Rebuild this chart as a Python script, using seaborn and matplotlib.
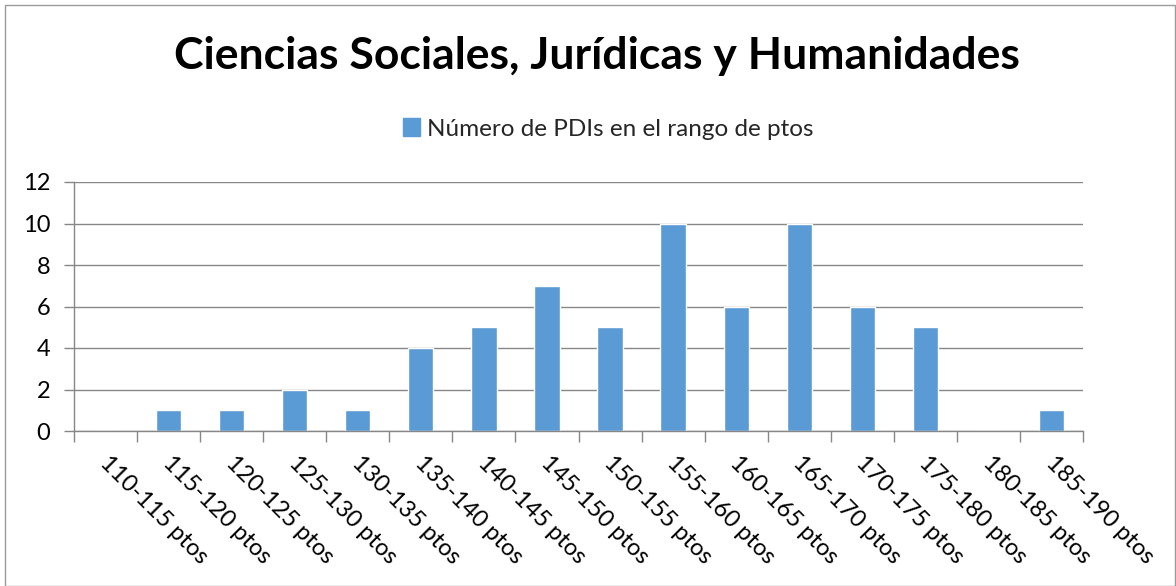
import numpy as np
import pandas as pd
import matplotlib
matplotlib.use("Agg")
import matplotlib.pyplot as plt
import matplotlib.patches as mpatches
import matplotlib.transforms as mtransforms
import seaborn as sns

# =========================
# DATA
# =========================
rangos = ["110-115 ptos", "115-120 ptos", "120-125 ptos", "125-130 ptos",
          "130-135 ptos", "135-140 ptos", "140-145 ptos", "145-150 ptos",
          "150-155 ptos", "155-160 ptos", "160-165 ptos", "165-170 ptos",
          "170-175 ptos", "175-180 ptos", "180-185 ptos", "185-190 ptos"]
num_pdis = [0, 1, 1, 2, 1, 4, 5, 7, 5, 10, 6, 10, 6, 5, 0, 1]
serie = "Número de PDIs en el rango de ptos"
titulo = "Ciencias Sociales, Jurídicas y Humanidades"
y_ticks = [0, 2, 4, 6, 8, 10, 12]

BAR_COLOR = "#5B9BD5"
GRID_COLOR = "#878787"

df = pd.DataFrame({"rango": rangos, "n": num_pdis})

# =========================
# PLOT
# =========================
sns.set_theme(style="white")
plt.rcParams["font.family"] = ["Lato", "DejaVu Sans"]

fig = plt.figure(figsize=(11.76, 5.86), dpi=100)
ax = fig.add_axes([74 / 1176, 1 - 431 / 586, (1083 - 74) / 1176, (431 - 182) / 586])

sns.barplot(data=df, x="rango", y="n", color=BAR_COLOR, width=0.4,
            saturation=1, ax=ax)

ax.set_ylim(0, 12)
ax.set_xlim(-0.5, len(rangos) - 0.5)
ax.set_yticks(y_ticks)
ax.set_yticklabels([str(t) for t in y_ticks], fontsize=17, color="black")
ax.yaxis.grid(True, color=GRID_COLOR, linewidth=1)
ax.set_axisbelow(True)
ax.tick_params(axis="y", which="major", length=7, width=1, color=GRID_COLOR,
               left=True, pad=10)

# category boundaries get the tick marks, labels sit at centres
ax.set_xticks(np.arange(len(rangos) + 1) - 0.5, minor=True)
ax.set_xticks(np.arange(len(rangos)))
ax.set_xticklabels(rangos, rotation=-45, ha="left", va="top",
                   rotation_mode="anchor", fontsize=17, color="black")
ax.tick_params(axis="x", which="major", length=0, pad=15)
ax.tick_params(axis="x", which="minor", length=8, width=1, color=GRID_COLOR,
               bottom=True)
# nudge labels a little to the right, like Excel does
shift = mtransforms.ScaledTranslation(5 / 100, 0, fig.dpi_scale_trans)
for lbl in ax.get_xticklabels():
    lbl.set_transform(lbl.get_transform() + shift)

for side in ["top", "right"]:
    ax.spines[side].set_visible(False)
for side in ["left", "bottom"]:
    ax.spines[side].set_color(GRID_COLOR)
    ax.spines[side].set_linewidth(1)
ax.set_xlabel("")
ax.set_ylabel("")

fig.text(597 / 1176, 1 - 56 / 586, titulo, ha="center", va="center",
         fontsize=32, fontweight="bold", color="black")

handle = mpatches.Patch(color=BAR_COLOR, label=serie)
fig.legend(handles=[handle], loc="center", bbox_to_anchor=(608 / 1176, 1 - 129 / 586),
           frameon=False, fontsize=17.5, handlelength=0.7, handleheight=0.7,
           handletextpad=0.3)

# outer chart border
fig.patches.append(mpatches.Rectangle((5 / 1176, 0), 1 - 6 / 1176, 1 - 5 / 586,
                                      transform=fig.transFigure, fill=False,
                                      edgecolor="#9a9a9a", linewidth=1))

fig.savefig("out.png", dpi=100)
